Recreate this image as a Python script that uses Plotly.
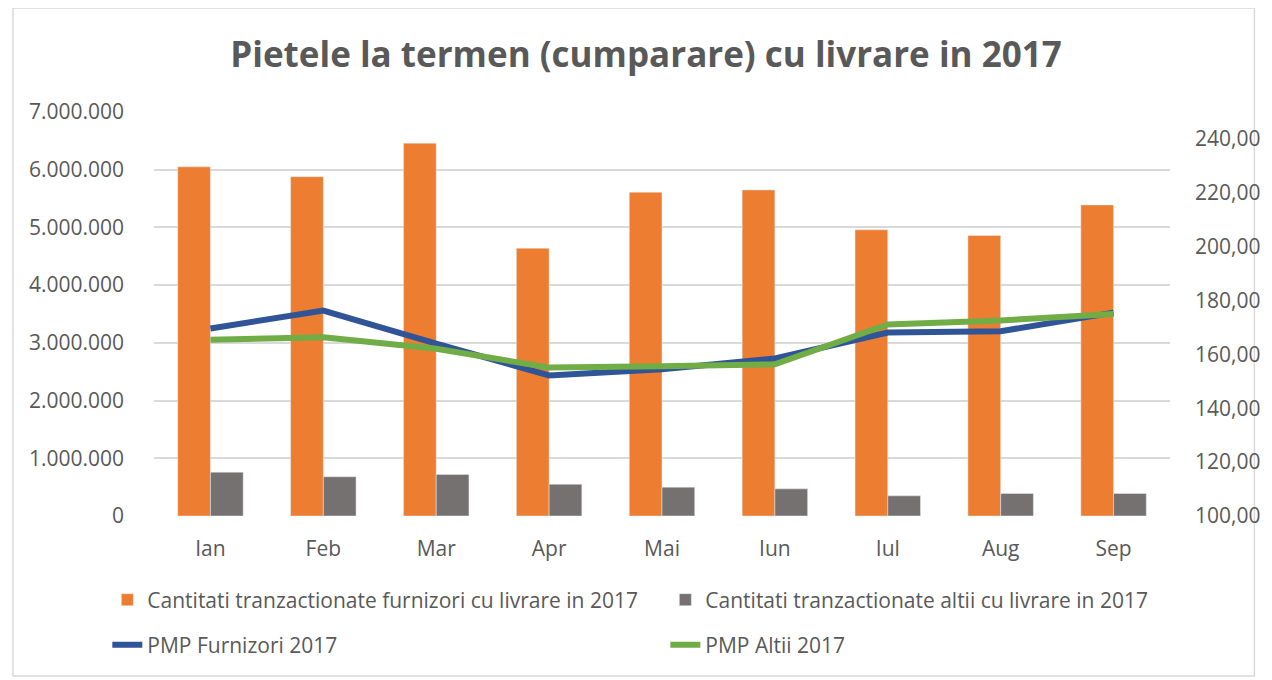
import plotly.graph_objects as go

months = ["Ian", "Feb", "Mar", "Apr", "Mai", "Iun", "Iul", "Aug", "Sep"]
furnizori_qty = [6050000, 5880000, 6460000, 4640000, 5610000, 5650000, 4960000, 4860000, 5390000]
altii_qty = [760000, 680000, 720000, 550000, 500000, 470000, 350000, 390000, 390000]
pmp_furnizori = [169.6, 176.3, 164.0, 152.2, 154.5, 158.5, 168.1, 168.6, 175.5]
pmp_altii = [165.4, 166.4, 162.1, 155.1, 155.6, 156.3, 171.1, 172.6, 175.0]

left_ticks = [0, 1000000, 2000000, 3000000, 4000000, 5000000, 6000000, 7000000]
right_ticks = [100, 120, 140, 160, 180, 200, 220, 240]

names = [
    "Cantitati tranzactionate furnizori cu livrare in 2017",
    "Cantitati tranzactionate altii cu livrare in 2017",
    "PMP Furnizori 2017",
    "PMP Altii 2017",
]

TXT = "#595959"
FONT = "Open Sans"
FS = 21

fig = go.Figure()
fig.add_trace(go.Bar(x=months, y=furnizori_qty, name=names[0], marker_color="#ED7D31",
                     legend="legend"))
fig.add_trace(go.Bar(x=months, y=altii_qty, name=names[1], marker_color="#767171",
                     legend="legend"))
fig.add_trace(go.Scatter(x=months, y=pmp_furnizori, name=names[2], yaxis="y2", mode="lines",
                         line=dict(color="#2F5597", width=6), legend="legend2"))
fig.add_trace(go.Scatter(x=months, y=pmp_altii, name=names[3], yaxis="y2", mode="lines",
                         line=dict(color="#70AD47", width=6), legend="legend2"))

# page body has an 8px margin, so the figure is drawn 8px smaller and coordinates
# below are in figure pixels (screen pixels minus 8)
W, H = 1264, 672
L, R, T, B = 146, 95, 104, 164
pw, ph = W - L - R, H - T - B


def px_x(x):
    return (x - L) / pw


def px_y(y):
    return (H - B - y) / ph


fig.update_layout(
    width=W, height=H,
    margin=dict(l=L, r=R, t=T, b=B),
    paper_bgcolor="white", plot_bgcolor="white",
    separators=",.",
    barmode="group", bargap=0.42, bargroupgap=0,
    font=dict(family=FONT, color=TXT, size=FS),
    title=dict(text="<b>Pietele la termen (cumparare) cu livrare in 2017</b>",
               x=638 / W, xanchor="center", y=1 - 47 / H, yanchor="middle",
               font=dict(family=FONT, size=35, color="#595959")),
    xaxis=dict(showgrid=False, showline=False, ticks="", tickfont=dict(size=FS, color=TXT),
               ticklabelstandoff=18),
    yaxis=dict(range=[0, 7000000], tickvals=left_ticks, tickformat=",d",
               showgrid=True, gridcolor="#D9D9D9", gridwidth=1.5, zeroline=False,
               ticks="", ticklabelstandoff=29, tickfont=dict(size=FS, color=TXT)),
    yaxis2=dict(range=[100, 250], tickvals=right_ticks, tickformat=",.2f",
                overlaying="y", side="right", showgrid=False, zeroline=False,
                ticks="", ticklabelstandoff=24, tickfont=dict(size=FS, color=TXT)),
    legend=dict(orientation="h", x=px_x(99), y=px_y(592), xanchor="left", yanchor="middle",
                entrywidth=513, font=dict(size=FS, color=TXT), bgcolor="rgba(0,0,0,0)",
                traceorder="normal"),
    legend2=dict(orientation="h", x=px_x(99), y=px_y(637), xanchor="left", yanchor="middle",
                 entrywidth=513, font=dict(size=FS, color=TXT), bgcolor="rgba(0,0,0,0)",
                 traceorder="normal"),
    shapes=[
        dict(type="rect", xref="paper", yref="paper", x0=px_x(4), x1=px_x(1254),
             y0=px_y(668), y1=px_y(0), line=dict(color="#D9D9D9", width=1.5),
             fillcolor="rgba(0,0,0,0)", layer="below"),
    ],
)

fig.write_html("out.html")
